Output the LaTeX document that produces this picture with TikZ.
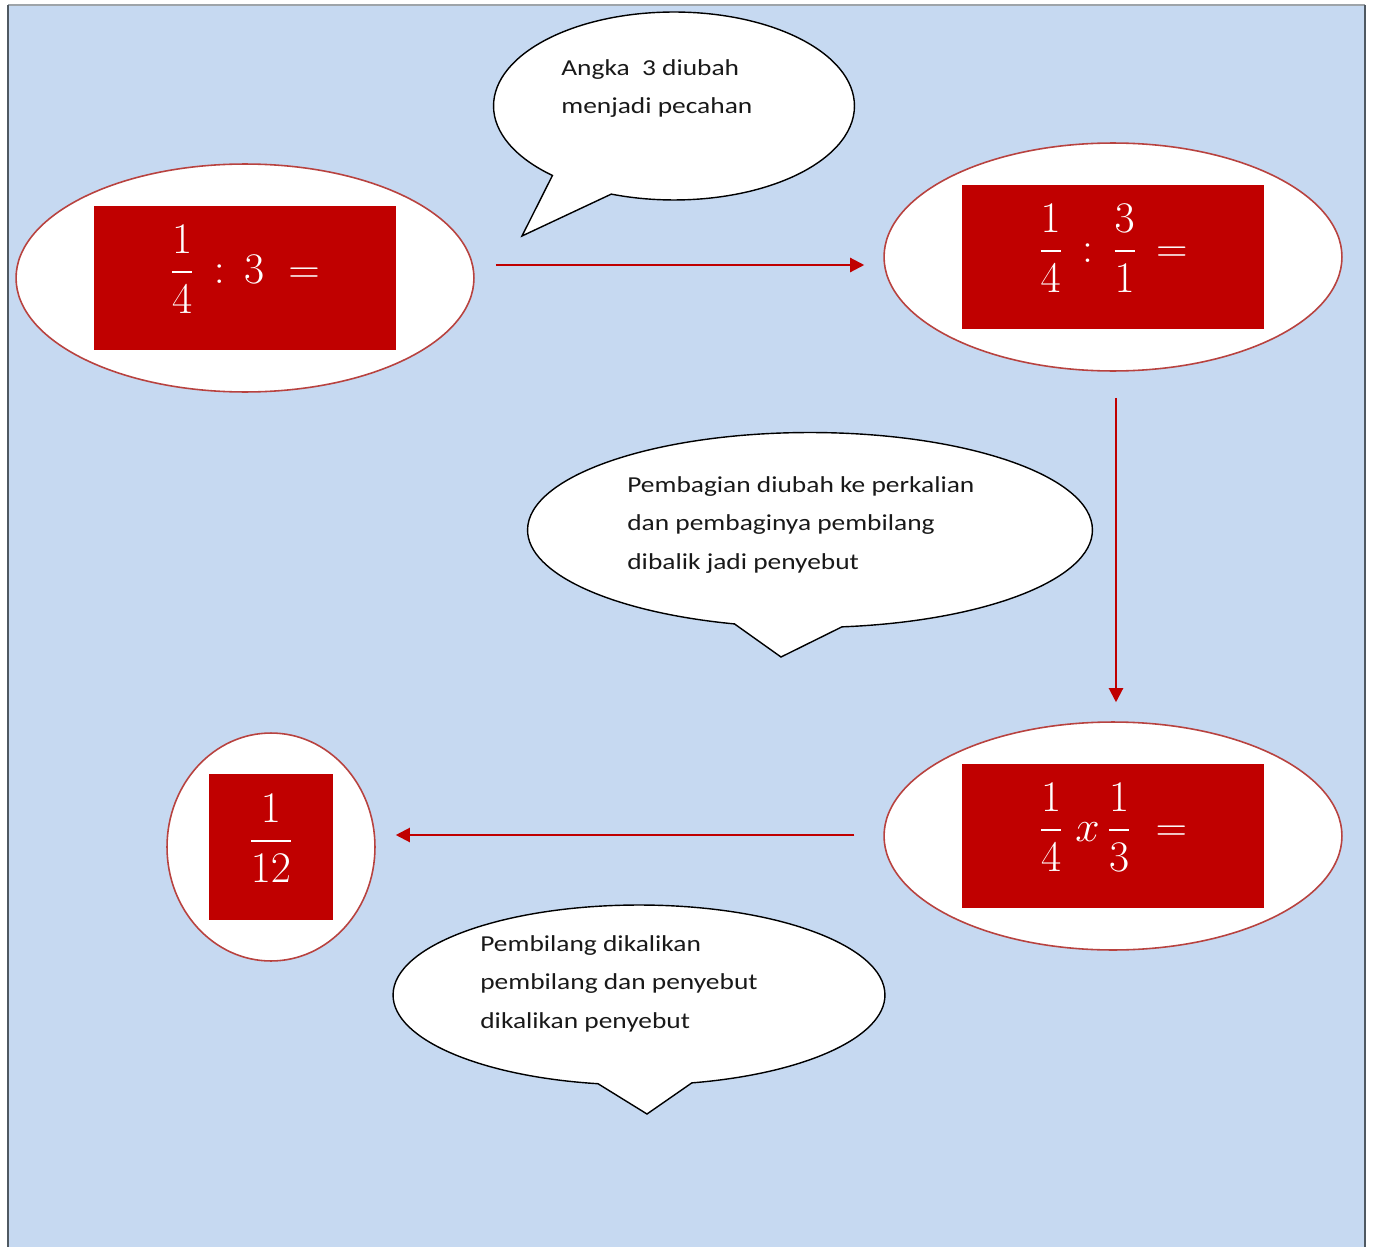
\documentclass[tikz,border=0pt]{standalone}
\usepackage{amsmath}
\usepackage{fontspec}
\newfontfamily\calibri[FakeStretch=1.2]{Carlito}
\usetikzlibrary{shapes.geometric,shapes.callouts,arrows.meta}

\definecolor{latar}{HTML}{C6D9F1}
\definecolor{merah}{HTML}{C00000}
\definecolor{garis}{HTML}{B8423F}
\definecolor{bingkai}{HTML}{4F5962}

\tikzstyle{lingkaran} = [ellipse, draw=garis, line width=0.9pt, fill=white, minimum width=9.16cm, minimum height=4.56cm]
\tikzstyle{kotak} = [rectangle, fill=merah, text=white, minimum width=6.04cm, minimum height=2.9cm, text height=40pt, text depth=34pt, font=\fontsize{30}{36}\selectfont]
\tikzstyle{awan} = [ellipse callout, draw=black, line width=0.8pt, fill=white, callout pointer arc=22]
\tikzstyle{keterangan} = [anchor=north west, inner sep=0pt, align=left, text=black!90, font=\calibri\fontsize{13}{22}\selectfont]
\tikzstyle{panah} = [-{Triangle[length=8pt,width=8pt]}, draw=merah, line width=1.2pt]

\begin{document}
\begin{tikzpicture}[x=0.02cm, y=-0.02cm]
	\useasboundingbox (0,0) rectangle (1373,1247);
	\fill[latar] (8,5) rectangle (1365,1247);
	\draw[bingkai!55, line width=1.2pt] (8,5) -- (1365,5);
	\draw[bingkai, line width=1.2pt] (8,5) -- (8,1247) (1365,5) -- (1365,1247);

	\node (soal)  [lingkaran] at (245,278) {};
	\node (ubah)  [lingkaran] at (1113,257) {};
	\node (kali)  [lingkaran] at (1113,836) {};
	\node (hasil) [lingkaran, minimum width=4.16cm] at (271,847) {};

	\node (soalbox)  [kotak] at (soal) {$\dfrac{1}{4} \,:\, 3 \;=$};
	\node (ubahbox)  [kotak] at (ubah) {$\dfrac{1}{4} \,:\, \dfrac{3}{1} \,=$};
	\node (kalibox)  [kotak] at (kali) {$\dfrac{1}{4}\; x \,\dfrac{1}{3} \;=$};
	\node (hasilbox) [kotak, minimum width=2.5cm, minimum height=2.94cm] at (hasil) {$\dfrac{1}{12}$};

	\draw[panah] ([shift={(21,-13)}]soal.east) -- ([shift={(-19,8)}]ubah.west);
	\draw[panah] ([shift={(3,26)}]ubah.south) -- ([shift={(3,-19)}]kali.north);
	\draw[panah] ([shift={(-29,-1)}]kali.west) -- ([shift={(20,-12)}]hasil.east);

	\node (awan1) [awan, minimum width=7.22cm, minimum height=3.76cm, callout absolute pointer={(522,236)}] at (674,106) {};
	\node (awan2) [awan, minimum width=11.3cm, minimum height=3.9cm, callout absolute pointer={(781,657)}] at (810,530) {};
	\node (awan3) [awan, minimum width=9.84cm, minimum height=3.6cm, callout absolute pointer={(647,1114)}] at (639,995) {};

	\node (teks1) [keterangan] at (561,59) {Angka~ 3 diubah\\menjadi pecahan};
	\node (teks2) [keterangan] at (627,476) {Pembagian diubah ke perkalian\\dan pembaginya pembilang\\dibalik jadi penyebut};
	\node (teks3) [keterangan] at (480,935) {Pembilang dikalikan\\pembilang dan penyebut\\dikalikan penyebut};
\end{tikzpicture}
\end{document}
